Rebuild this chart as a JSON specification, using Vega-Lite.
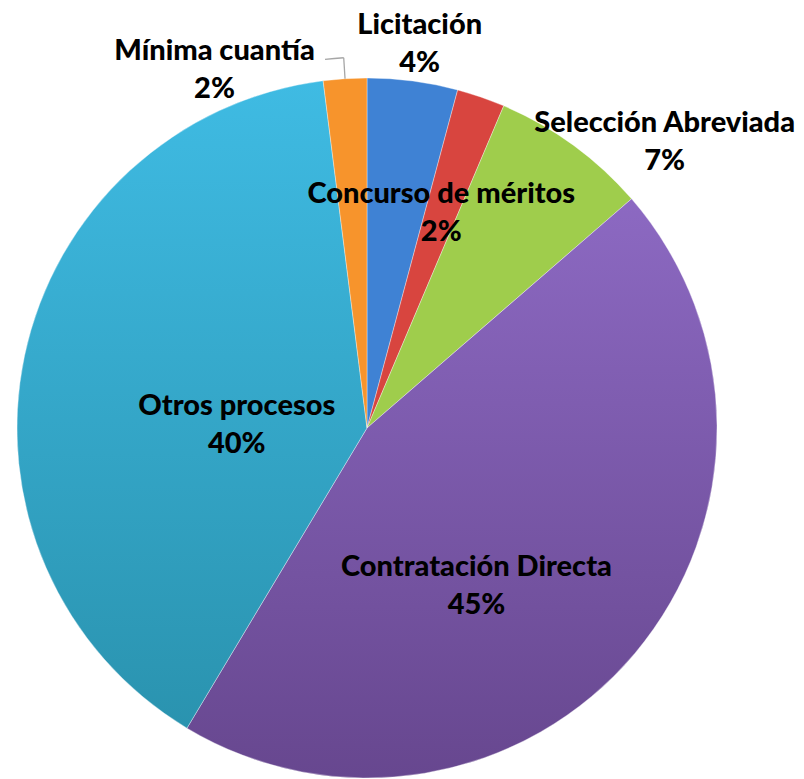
{
  "$schema": "https://vega.github.io/schema/vega-lite/v6.json",
  "width": 734,
  "height": 700,
  "autosize": "none",
  "padding": {"left": 0, "top": 78, "right": 70, "bottom": 1},
  "background": "white",
  "data": {
    "values": [
      {"idx": 1, "name": "Licitación", "value": 4.17, "label": "Licitación\n4%"},
      {"idx": 2, "name": "Concurso de méritos", "value": 2.22, "label": "Concurso de méritos\n2%"},
      {"idx": 3, "name": "Selección Abreviada", "value": 7.25, "label": "Selección Abreviada\n7%"},
      {"idx": 4, "name": "Contratación Directa", "value": 44.96, "label": "Contratación Directa\n45%"},
      {"idx": 5, "name": "Otros procesos", "value": 39.4, "label": "Otros procesos\n40%"},
      {"idx": 6, "name": "Mínima cuantía", "value": 2.0, "label": "Mínima cuantía\n2%"}
    ]
  },
  "encoding": {
    "theta": {"field": "value", "type": "quantitative", "stack": true},
    "order": {"field": "idx", "type": "quantitative"},
    "detail": {"field": "name", "type": "nominal"}
  },
  "layer": [
    {
      "mark": {"type": "arc", "radius": 350, "stroke": "#ffffff", "strokeOpacity": 0.35, "strokeWidth": 1},
      "encoding": {
        "fill": {
          "condition": [
            {"test": "datum.name === 'Licitación'", "value": "#3F82D4"},
            {"test": "datum.name === 'Concurso de méritos'", "value": "#D8453F"},
            {"test": "datum.name === 'Selección Abreviada'", "value": "#9FCD4C"},
            {"test": "datum.name === 'Contratación Directa'", "value": {"gradient": "linear", "x1": 0, "y1": 0, "x2": 0, "y2": 1, "stops": [{"offset": 0, "color": "#8C69C2"}, {"offset": 1, "color": "#67478F"}]}},
            {"test": "datum.name === 'Otros procesos'", "value": {"gradient": "linear", "x1": 0, "y1": 0, "x2": 0, "y2": 1, "stops": [{"offset": 0, "color": "#3FBBE3"}, {"offset": 1, "color": "#2A93AF"}]}}
          ],
          "value": "#F7942C"
        }
      }
    },
    {
      "transform": [{"stack": "value", "groupby": [], "sort": [{"field": "idx", "order": "ascending"}], "as": ["v0", "v1"]}],
      "mark": {"type": "arc", "radius": 371, "radius2": 350, "thetaOffset": -0.0628, "theta2Offset": -0.0628, "fill": null, "strokeWidth": 1.3},
      "encoding": {
        "theta": {"field": "v1", "type": "quantitative"},
        "theta2": {"field": "v1"},
        "stroke": {"condition": {"test": "datum.name === 'Mínima cuantía'", "value": "#A6A6A6"}, "value": null}
      }
    },
    {
      "transform": [{"stack": "value", "groupby": [], "sort": [{"field": "idx", "order": "ascending"}], "as": ["v0", "v1"]}],
      "mark": {"type": "arc", "radius": 371, "radius2": 371, "thetaOffset": -0.1134, "theta2Offset": -0.0628, "fill": null, "strokeWidth": 1.3},
      "encoding": {
        "theta": {"field": "v1", "type": "quantitative"},
        "theta2": {"field": "v1"},
        "stroke": {"condition": {"test": "datum.name === 'Mínima cuantía'", "value": "#A6A6A6"}, "value": null}
      }
    },
    {
      "mark": {"type": "text", "radius": 388, "dx": 2, "dy": -18},
      "encoding": {"text": {"condition": {"test": "datum.name === 'Licitación'", "field": "label", "type": "nominal"}, "value": ""}}
    },
    {
      "mark": {"type": "text", "radius": 228, "dx": 0, "dy": -18},
      "encoding": {"text": {"condition": {"test": "datum.name === 'Concurso de méritos'", "field": "label", "type": "nominal"}, "value": ""}}
    },
    {
      "mark": {"type": "text", "radius": 414, "dx": 54, "dy": 30},
      "encoding": {"text": {"condition": {"test": "datum.name === 'Selección Abreviada'", "field": "label", "type": "nominal"}, "value": ""}}
    },
    {
      "mark": {"type": "text", "radius": 190, "dx": -36, "dy": 17},
      "encoding": {"text": {"condition": {"test": "datum.name === 'Contratación Directa'", "field": "label", "type": "nominal"}, "value": ""}}
    },
    {
      "mark": {"type": "text", "radius": 130, "dx": -3, "dy": 5},
      "encoding": {"text": {"condition": {"test": "datum.name === 'Otros procesos'", "field": "label", "type": "nominal"}, "value": ""}}
    },
    {
      "mark": {"type": "text", "radius": 390, "dx": -128, "dy": 12},
      "encoding": {"text": {"condition": {"test": "datum.name === 'Mínima cuantía'", "field": "label", "type": "nominal"}, "value": ""}}
    }
  ],
  "config": {
    "view": {"stroke": null},
    "text": {"font": "Lato", "fontWeight": 900, "fontSize": 29, "lineHeight": 38, "lineBreak": "\n", "align": "center", "baseline": "middle", "color": "#000000"}
  }
}
